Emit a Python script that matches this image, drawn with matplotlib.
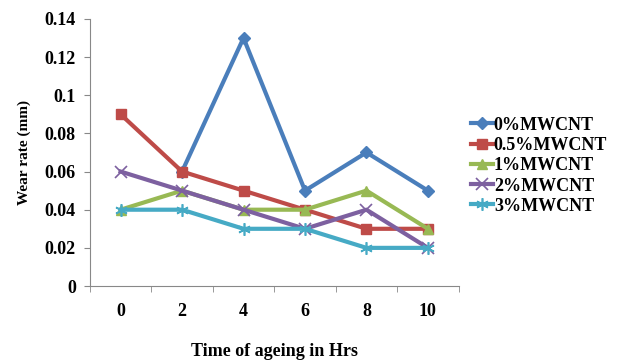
import numpy as np
import matplotlib
matplotlib.use("Agg")
import matplotlib.pyplot as plt

hours = ["0", "2", "4", "6", "8", "10"]
wear_0 = [np.nan, 0.06, 0.13, 0.05, 0.07, 0.05]
wear_05 = [0.09, 0.06, 0.05, 0.04, 0.03, 0.03]
wear_1 = [0.04, 0.05, 0.04, 0.04, 0.05, 0.03]
wear_2 = [0.06, 0.05, 0.04, 0.03, 0.04, 0.02]
wear_3 = [0.04, 0.04, 0.03, 0.03, 0.02, 0.02]
yticks = [0, 0.02, 0.04, 0.06, 0.08, 0.1, 0.12, 0.14]
ytick_labels = ["0", "0.02", "0.04", "0.06", "0.08", "0.1", "0.12", "0.14"]

plt.rcParams['font.family'] = ['Liberation Serif', 'DejaVu Serif']
plt.rcParams['font.weight'] = 'bold'

fig = plt.figure(figsize=(6.24, 3.63), dpi=100)
ax = fig.add_axes([0.144, 0.212, 0.591, 0.736])

x = np.arange(len(hours))
series = [
    (wear_0, "0%MWCNT", "#4A7EBB", "D", 6),
    (wear_05, "0.5%MWCNT", "#BE4B48", "s", 7),
    (wear_1, "1%MWCNT", "#98B954", "^", 7),
    (wear_2, "2%MWCNT", "#7D60A0", "x", 8),
    (wear_3, "3%MWCNT", "#46AAC5", (6, 2, 0), 9),
]
for vals, name, col, mk, ms in series:
    ax.plot(x, vals, color=col, lw=3, marker=mk, markersize=ms,
            markeredgewidth=1.2 if mk == "x" or isinstance(mk, tuple) else 1,
            markeredgecolor=col, markerfacecolor=col, label=name)

ax.set_xlim(-0.5, 5.5)
ax.set_ylim(0, 0.14)
ax.set_xticks(x)
ax.set_xticklabels(hours)
ax.set_xticks(np.arange(-0.5, 6.0, 1.0), minor=True)
ax.tick_params(axis='x', which='major', length=0, pad=12, labelsize=13)
ax.tick_params(axis='x', which='minor', length=4, color='#888888', direction='out')
ax.set_yticks(yticks)
ax.set_yticklabels(ytick_labels)
ax.tick_params(axis='y', length=4, color='#888888', direction='out', labelsize=13, pad=6)

for s in ['top', 'right']:
    ax.spines[s].set_visible(False)
for s in ['left', 'bottom']:
    ax.spines[s].set_color('#888888')

ax.set_ylabel("Wear rate (mm)", fontsize=11, fontweight='bold', labelpad=10)
ax.set_xlabel("Time of ageing in Hrs", fontsize=13, fontweight='bold', labelpad=17)

leg = ax.legend(loc='center left', bbox_to_anchor=(1.0, 0.45), frameon=False,
                fontsize=13, handlelength=1.2, handletextpad=0.05,
                labelspacing=0.18, borderaxespad=0.3)
for t in leg.get_texts():
    t.set_fontweight('bold')

fig.savefig("out.png", dpi=100)
